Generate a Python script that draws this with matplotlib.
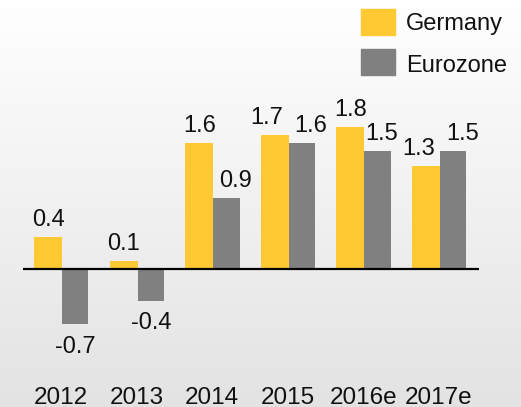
import numpy as np
import matplotlib
matplotlib.use("Agg")
import matplotlib.pyplot as plt
from matplotlib.patches import Rectangle

# ---- data ----
categories = ["2012", "2013", "2014", "2015", "2016e", "2017e"]
germany = [0.4, 0.1, 1.6, 1.7, 1.8, 1.3]
eurozone = [-0.7, -0.4, 0.9, 1.6, 1.5, 1.5]
series_names = ["Germany", "Eurozone"]

# ---- style ----
YELLOW = "#FFC933"
GREY = "#808080"
W, H, DPI = 521, 407, 100
plt.rcParams["font.family"] = ["Liberation Sans", "DejaVu Sans"]

fig = plt.figure(figsize=(W / DPI, H / DPI), dpi=DPI)

# background gradient
bg = fig.add_axes([0, 0, 1, 1], zorder=-10)
grad = np.linspace(1.0, 0.0, 256).reshape(-1, 1)
c_top = np.array([1.0, 1.0, 1.0])
c_bot = np.array([0.89, 0.89, 0.89])
img = grad[..., None] * c_top + (1 - grad[..., None]) * c_bot
bg.imshow(img, aspect="auto", extent=[0, 1, 0, 1], origin="upper")
bg.set_axis_off()

# main axes: spans full height, pixel-mapped
ax_left, ax_right = 23, 479
zero_px, px_per_unit = 269, 79.0
ax = fig.add_axes([ax_left / W, 0, (ax_right - ax_left) / W, 1])
ax.set_facecolor("none")
ax.set_xlim(-0.516, 5.516)
ax.set_ylim(-(H - zero_px) / px_per_unit, zero_px / px_per_unit)
ax.set_axis_off()

x = np.arange(len(categories))
wy, wg = 0.37, 0.35
ax.bar(x, germany, width=-wy, align="edge", color=YELLOW, zorder=2)
ax.bar(x, eurozone, width=wg, align="edge", color=GREY, zorder=2)
ax.axhline(0, color="black", lw=1.6, zorder=3)

# value labels (horizontal nudges in pixels)
nudge_g = [0, 0, 0, -8.5, 0, -7.5]
nudge_e = [0, 0, 9, 8.5, 4, 9.5]
fs_val = 17
px2pt = 72.0 / DPI
for i, (g, e) in enumerate(zip(germany, eurozone)):
    for val, xc, nd in ((g, x[i] - wy / 2, nudge_g[i]), (e, x[i] + wg / 2, nudge_e[i])):
        dy = 11 if val >= 0 else -28.5
        ax.annotate(f"{val:.1f}", (xc, val), xytext=(nd * px2pt, dy * px2pt),
                    textcoords="offset points", ha="center", va="baseline",
                    fontsize=fs_val, color="#111111", zorder=4)

# category labels
for i, c in enumerate(categories):
    ax.annotate(c, (x[i], 0), xytext=(-1 * px2pt, -(403.5 - zero_px) * px2pt),
                textcoords="offset points", ha="center", va="baseline",
                fontsize=17.5, color="#111111", annotation_clip=False)

# legend (manual, pixel positions)
for (name, col, y0, y1, base) in ((series_names[0], YELLOW, 9, 35, 30),
                                   (series_names[1], GREY, 49, 75, 72.5)):
    fig.patches.append(Rectangle((361 / W, 1 - y1 / H), 34 / W, (y1 - y0) / H,
                                 transform=fig.transFigure, color=col))
    fig.text(406 / W, 1 - base / H, name, ha="left", va="baseline",
             fontsize=17, color="#111111")

fig.savefig("out.png", dpi=DPI)
